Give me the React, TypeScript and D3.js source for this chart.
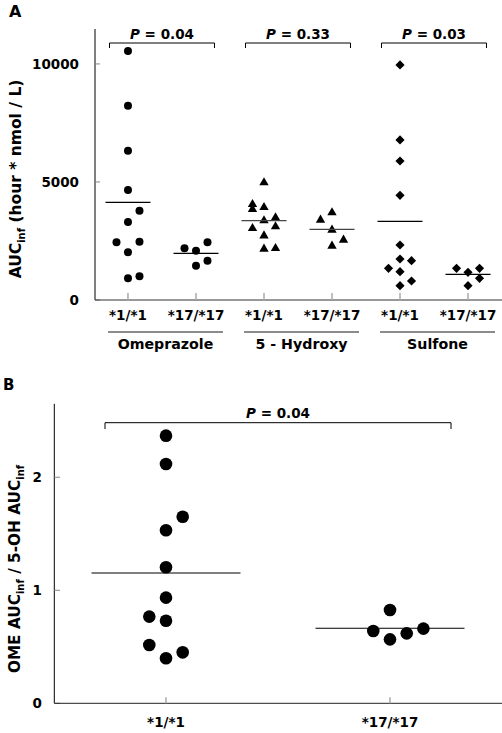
import React from "react";
import * as d3 from "d3";

// ---------- Panel A data ----------
const drugs = ["Omeprazole", "5 - Hydroxy", "Sulfone"];
const genotypes = ["*1/*1", "*17/*17"];
const pValuesA = ["0.04", "0.33", "0.03"];
const yTicksA = [0, 5000, 10000];

const omeprazole11 = [10551, 8234, 6326, 4661, 3784, 3305, 2444, 2472, 2020, 918, 1003];
const omeprazole11Jit = [0, 0, 0, 0, 1, 0, -1, 1, 0, 0, 1];
const omeprazole1717 = [2190, 2090, 2444, 1455, 1667];
const omeprazole1717Jit = [-1, 0, 1, 0, 1];

const hydroxy11 = [4972, 4054, 3843, 3927, 3361, 3488, 3038, 3110, 2725, 2161, 2190];
const hydroxy11Jit = [0, -1, -1, 0, 0, 1, -1, 1, 0, 0, 1];
const hydroxy1717 = [3390, 3700, 2966, 2542, 2288];
const hydroxy1717Jit = [-1, 0, 0, 1, 0];

const sulfone11 = [9958, 6780, 5890, 4435, 2331, 1737, 1667, 1342, 1201, 608, 805];
const sulfone11Jit = [0, 0, 0, 0, 0, 0, 1, -1, 0, 0, 1];
const sulfone1717 = [1342, 1172, 1342, 918, 608];
const sulfone1717Jit = [-1, 0, 1, 1, 0];

const meansA = [4138, 1977, 3361, 2994, 3334, 1088];

// ---------- Panel B data ----------
const ratio11 = [2.368, 2.118, 1.651, 1.531, 1.204, 0.935, 0.767, 0.731, 0.516, 0.451, 0.398];
const ratio11Jit = [0, 0, 1, 0, 0, 0, -1, 0, -1, 1, 0];
const ratio1717 = [0.826, 0.64, 0.566, 0.619, 0.661];
const ratio1717Jit = [0, -1, 0, 1, 2];
const meansB = [1.153, 0.664];
const pValueB = "0.04";
const yTicksB = [0, 1, 2];

const FONT = "'DejaVu Sans', sans-serif";

export default function App() {
  // Panel A scales
  const keysA = drugs.flatMap((d) => genotypes.map((g) => `${d}|${g}`));
  const xA = d3.scalePoint<string>().domain(keysA).range([95, 501]).padding(0.485);
  const yA = d3.scaleLinear().domain([0, 11480]).range([300, 29]);
  const jitA = 11.5;

  const seriesA = [
    { key: keysA[0], vals: omeprazole11, jit: omeprazole11Jit, shape: "circle" },
    { key: keysA[1], vals: omeprazole1717, jit: omeprazole1717Jit, shape: "circle" },
    { key: keysA[2], vals: hydroxy11, jit: hydroxy11Jit, shape: "triangle" },
    { key: keysA[3], vals: hydroxy1717, jit: hydroxy1717Jit, shape: "triangle" },
    { key: keysA[4], vals: sulfone11, jit: sulfone11Jit, shape: "diamond" },
    { key: keysA[5], vals: sulfone1717, jit: sulfone1717Jit, shape: "diamond" },
  ];
  const triPath = d3.symbol().type(d3.symbolTriangle).size(38)()!;
  const sqPath = d3.symbol().type(d3.symbolSquare).size(42)()!;

  // Panel B scales
  const xB = d3.scalePoint<string>().domain(genotypes).range([54, 502]).padding(0.5);
  const yB = d3.scaleLinear().domain([0, 2.65]).range([703.3, 403.8]);
  const jitB = 16.7;
  const seriesB = [
    { key: genotypes[0], vals: ratio11, jit: ratio11Jit },
    { key: genotypes[1], vals: ratio1717, jit: ratio1717Jit },
  ];

  const ts: any = { fontFamily: FONT, fontWeight: "bold" };

  return (
    <svg
      width={502}
      height={733}
      style={{ position: "absolute", left: 0, top: 0, background: "#fff" }}
    >
      <rect width={502} height={733} fill="#fff" />
      {/* ================= Panel A ================= */}
      <text x={9} y={17} fontSize={16} {...ts}>A</text>

      {/* y axis */}
      <line x1={95} x2={95} y1={yA(11480)} y2={yA(0)} stroke="#000" strokeWidth={1} />
      {yTicksA.map((t) => (
        <g key={t}>
          <line x1={95} x2={100} y1={yA(t)} y2={yA(t)} stroke="#888" />
          <text x={79} y={yA(t) + 5} textAnchor="end" fontSize={13.5} {...ts}>
            {t}
          </text>
        </g>
      ))}
      {/* x axis */}
      <line x1={95} x2={502} y1={300} y2={300} stroke="#333" strokeWidth={1} />
      {keysA.map((k, i) => (
        <g key={k}>
          <line x1={xA(k)} x2={xA(k)} y1={300} y2={293} stroke="#aaa" strokeWidth={1.5} />
          <text x={xA(k)} y={320} textAnchor="middle" fontSize={13.5} {...ts}>
            {genotypes[i % 2]}
          </text>
        </g>
      ))}
      {drugs.map((d, i) => {
        const a = xA(keysA[i * 2])!;
        const b = xA(keysA[i * 2 + 1])!;
        const c = (a + b) / 2;
        return (
          <g key={d}>
            <line x1={a - 20} x2={b + 27} y1={332} y2={332} stroke="#666" strokeWidth={1.5} />
            <text x={(a - 20 + b + 27) / 2} y={349} textAnchor="middle" fontSize={14.2} {...ts}>
              {d}
            </text>
            {/* p-value bracket */}
            <path
              d={`M${c - 52.5},48V43H${c + 52.5}V48`}
              fill="none"
              stroke="#000"
              strokeWidth={1}
            />
            <text x={c} y={38.5} textAnchor="middle" fontSize={13.5} {...ts}>
              <tspan fontStyle="italic">P</tspan> = {pValuesA[i]}
            </text>
          </g>
        );
      })}

      {/* y title A */}
      <text transform={`translate(21,179) rotate(-90)`} textAnchor="middle" fontSize={15.5} {...ts}>
        AUC<tspan fontSize={10} dy={4}>inf</tspan>
        <tspan dy={-4}> (hour * nmol / L)</tspan>
      </text>

      {/* points A */}
      {seriesA.map((s) => (
        <g key={s.key}>
          {s.vals.map((v, j) => {
            const cx = xA(s.key)! + s.jit[j] * jitA;
            const cy = yA(v);
            if (s.shape === "circle") return <circle key={j} cx={cx} cy={cy} r={4} fill="#000" />;
            if (s.shape === "triangle")
              return <path key={j} d={triPath} transform={`translate(${cx},${cy})`} fill="#000" />;
            return (
              <path key={j} d={sqPath} transform={`translate(${cx},${cy}) rotate(45)`} fill="#000" />
            );
          })}
        </g>
      ))}
      {/* mean lines A */}
      {keysA.map((k, i) => (
        <line
          key={k}
          x1={xA(k)! - 22.5}
          x2={xA(k)! + 22.5}
          y1={yA(meansA[i])}
          y2={yA(meansA[i])}
          stroke={i === 2 || i === 3 ? "#444" : "#000"}
          strokeWidth={1.2}
        />
      ))}

      {/* ================= Panel B ================= */}
      <text x={3} y={390} fontSize={15} {...ts}>B</text>
      <line x1={54.3} x2={54.3} y1={yB(2.65)} y2={yB(0)} stroke="#000" />
      {yTicksB.map((t) => (
        <g key={t}>
          <line x1={54.3} x2={60} y1={yB(t)} y2={yB(t)} stroke="#888" />
          <text x={42} y={yB(t) + 5} textAnchor="end" fontSize={13.5} {...ts}>
            {t}
          </text>
        </g>
      ))}
      <line x1={54.3} x2={502} y1={yB(0)} y2={yB(0)} stroke="#222" />
      {genotypes.map((g) => (
        <g key={g}>
          <line x1={xB(g)} x2={xB(g)} y1={yB(0)} y2={yB(0) - 6} stroke="#aaa" strokeWidth={1.5} />
          <text x={xB(g)} y={727} textAnchor="middle" fontSize={13.5} {...ts}>
            {g}
          </text>
        </g>
      ))}
      {(() => {
        const a = xB(genotypes[0])! - 61;
        const b = xB(genotypes[1])! + 61;
        return (
          <g>
            <path d={`M${a},429V422.7H${b}V429`} fill="none" stroke="#000" />
            <text x={(a + b) / 2} y={418} textAnchor="middle" fontSize={13.5} {...ts}>
              <tspan fontStyle="italic">P</tspan> = {pValueB}
            </text>
          </g>
        );
      })()}
      <text transform={`translate(20,569) rotate(-90)`} textAnchor="middle" fontSize={15.3} {...ts}>
        OME AUC<tspan fontSize={10} dy={4}>inf</tspan>
        <tspan dy={-4}> / 5-OH AUC</tspan>
        <tspan fontSize={10} dy={4}>inf</tspan>
      </text>
      {seriesB.map((s) => (
        <g key={s.key}>
          {s.vals.map((v, j) => (
            <circle key={j} cx={xB(s.key)! + s.jit[j] * jitB} cy={yB(v)} r={6.3} fill="#000" />
          ))}
        </g>
      ))}
      {genotypes.map((g, i) => (
        <line
          key={g}
          x1={xB(g)! - 74.5}
          x2={xB(g)! + 74.5}
          y1={yB(meansB[i])}
          y2={yB(meansB[i])}
          stroke="#000"
          strokeWidth={1.2}
        />
      ))}
    </svg>
  );
}
